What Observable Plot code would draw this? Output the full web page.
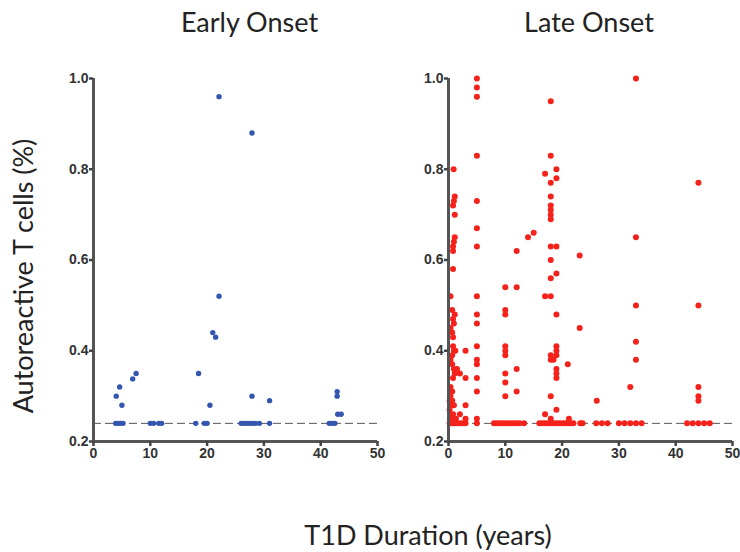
<!DOCTYPE html>
<html>
<head>
<meta charset="utf-8">
<script src="https://cdn.jsdelivr.net/npm/d3@7"></script>
<script src="https://cdn.jsdelivr.net/npm/@observablehq/plot@0.6"></script>
<style>
  html, body { margin: 0; padding: 0; background: #fff; }
  #wrap { position: relative; width: 740px; height: 552px; overflow: hidden; background: #fff; }
  #wrap > .panel { position: absolute; top: 0; }
  #wrap svg { overflow: visible; }
  #labels { position: absolute; left: 0; top: 0; pointer-events: none; }
</style>
</head>
<body>
<div id="wrap">
  <div class="panel" id="left" style="left:0px"></div>
  <div class="panel" id="right" style="left:355px"></div>
  <svg id="labels" width="740" height="552" font-family="Lato, 'Open Sans', sans-serif" font-size="27" fill="#222">
    <text x="249.5" y="32" text-anchor="middle">Early Onset</text>
    <text x="589" y="32" text-anchor="middle">Late Onset</text>
    <text x="428" y="545" text-anchor="middle">T1D Duration (years)</text>
    <text transform="translate(33,276) rotate(-90)" text-anchor="middle">Autoreactive T cells (%)</text>
  </svg>
</div>
<script>
// Panel titles and axis texts
const panelTitles = ["Early Onset", "Late Onset"];
const xTicks = [0, 10, 20, 30, 40, 50];
const yTicks = [0.2, 0.4, 0.6, 0.8, 1.0];
const xDomain = [0, 50];
const yDomain = [0.2, 1.0];
const detectionLimit = 0.24;

// Early onset: [T1D duration (years), autoreactive T cells (%)]
const earlyOnset = [
  [4.0,0.30],[4.6,0.32],[5.0,0.28],[6.9,0.338],[7.5,0.35],
  [3.9,0.24],[4.3,0.24],[4.7,0.24],[5.2,0.24],
  [10.0,0.24],[10.6,0.24],[11.5,0.24],[12.0,0.24],
  [18.0,0.24],[18.5,0.35],[19.5,0.24],[20.0,0.24],[20.5,0.28],
  [21.0,0.44],[21.5,0.43],[22.1,0.96],[22.1,0.52],
  [26.0,0.24],[26.5,0.24],[27.0,0.24],[27.5,0.24],[28.0,0.24],[28.5,0.24],[29.2,0.24],
  [27.9,0.88],[27.9,0.30],
  [31.0,0.29],[31.0,0.24],
  [41.5,0.24],[42.0,0.24],[42.5,0.24],[42.9,0.31],[42.9,0.30],[43.0,0.26],[43.6,0.26]
];

// Late onset: [T1D duration (years), autoreactive T cells (%)]
const lateOnset = [
  [0.9,0.80],[1.1,0.74],[0.95,0.73],[0.8,0.72],[1.1,0.70],[1.1,0.65],[0.95,0.64],[0.8,0.63],[0.8,0.62],
  [0.8,0.58],[0.35,0.52],[0.65,0.49],[1.1,0.48],[0.8,0.47],[0.95,0.46],[0.35,0.45],[0.65,0.44],[0.8,0.43],
  [0.8,0.41],[0.95,0.40],[0.65,0.39],[1.2,0.40],[3.0,0.40],[0.35,0.38],[0.65,0.37],[0.95,0.36],[1.1,0.35],
  [0.8,0.34],[2.0,0.35],[1.5,0.36],[3.0,0.34],[0.35,0.32],[0.65,0.31],[0.35,0.30],[0.65,0.29],[0.95,0.28],
  [3.0,0.28],[0.2,0.27],[0.3,0.26],[0.5,0.25],[0.2,0.24],[0.5,0.24],[0.8,0.24],[1.1,0.24],[1.5,0.24],
  [2.0,0.24],[2.5,0.24],[3.0,0.24],[0.8,0.26],[1.3,0.25],[2.0,0.26],[3.0,0.25],[0.4,0.28],[0.2,0.29],
  [5,1.0],[5,0.98],[5,0.96],[5,0.83],[5,0.73],[5,0.67],[5,0.63],[5,0.52],[5,0.48],[5,0.46],[5,0.41],
  [5,0.38],[5,0.37],[5,0.34],[5,0.31],[5,0.25],[5,0.24],
  [10,0.54],[10,0.49],[10,0.48],[10,0.41],[10,0.40],[10,0.39],[10,0.35],[10,0.33],[10,0.30],
  [8,0.24],[8.5,0.24],[9,0.24],[9.5,0.24],[10,0.24],[10.5,0.24],[11,0.24],[11.5,0.24],[12,0.24],[12.5,0.24],[13.3,0.24],
  [12,0.62],[12,0.54],[12,0.36],[12,0.31],[14,0.65],[15,0.66],
  [18,0.95],[18,0.83],[19,0.80],[17,0.79],[19,0.78],[18,0.77],[18,0.74],[18,0.72],[18,0.71],[18,0.70],
  [18,0.69],[18,0.63],[19,0.63],[18,0.60],[19,0.57],[18,0.56],[17,0.52],[18,0.52],[19,0.48],[19,0.41],
  [19,0.40],[19,0.39],[18,0.39],[18,0.38],[18.5,0.38],[19,0.36],[19,0.35],[19,0.34],[21,0.37],[18,0.30],
  [19,0.27],[17,0.26],[18,0.25],[21.2,0.25],
  [16,0.24],[16.5,0.24],[17,0.24],[17.5,0.24],[18,0.24],[18.5,0.24],[19,0.24],[19.5,0.24],[20,0.24],
  [20.5,0.24],[21,0.24],[21.5,0.24],[22,0.24],
  [23.1,0.61],[23.1,0.45],[23.2,0.24],[23.6,0.24],[26.1,0.29],[26,0.24],[27,0.24],[28,0.24],
  [33,1.0],[33,0.65],[33,0.50],[33,0.42],[33,0.38],[32,0.32],[30,0.24],[31,0.24],[32,0.24],[33,0.24],[34,0.24],
  [44,0.77],[44,0.50],[44,0.32],[44,0.30],[44,0.29],[42,0.24],[43,0.24],[44,0.24],[45,0.24],[46,0.24]
];

const seriesColors = ["#3356b0", "#f5221c"];

function panel(data, color, r, width, marginRight) {
  return Plot.plot({
    width,
    height: 480,
    marginTop: 78,
    marginBottom: 39,
    marginLeft: 93,
    marginRight,
    style: {fontFamily: "'Liberation Sans', Arial, sans-serif", fontSize: "14px", fontWeight: "bold", color: "#333", background: "transparent"},
    x: {domain: xDomain},
    y: {domain: yDomain},
    marks: [
      Plot.ruleY([detectionLimit], {stroke: "#555", strokeWidth: 1, strokeDasharray: "8,4"}),
      Plot.dot(data, {x: d => d[0], y: d => d[1], r, fill: color, stroke: "none"}),
      Plot.ruleX([0], {y1: yDomain[0], y2: yDomain[1], stroke: "#555", strokeWidth: 3}),
      Plot.ruleY([yDomain[0]], {x1: xDomain[0], x2: xDomain[1], stroke: "#555", strokeWidth: 3}),
      Plot.axisX({ticks: xTicks, tickSize: 5, tickPadding: 2, strokeWidth: 2.5, stroke: "#444", fill: "#333", label: null, fontSize: 14, fontWeight: "bold"}),
      Plot.axisY({ticks: yTicks, tickSize: 4, tickPadding: 1, strokeWidth: 2.5, stroke: "#444", fill: "#333", tickFormat: d3.format(".1f"), label: null, fontSize: 14, fontWeight: "bold"})
    ]
  });
}

document.getElementById("left").append(panel(earlyOnset, seriesColors[0], 2.7, 390, 13));
document.getElementById("right").append(panel(lateOnset, seriesColors[1], 3, 385, 8));
</script>
</body>
</html>
